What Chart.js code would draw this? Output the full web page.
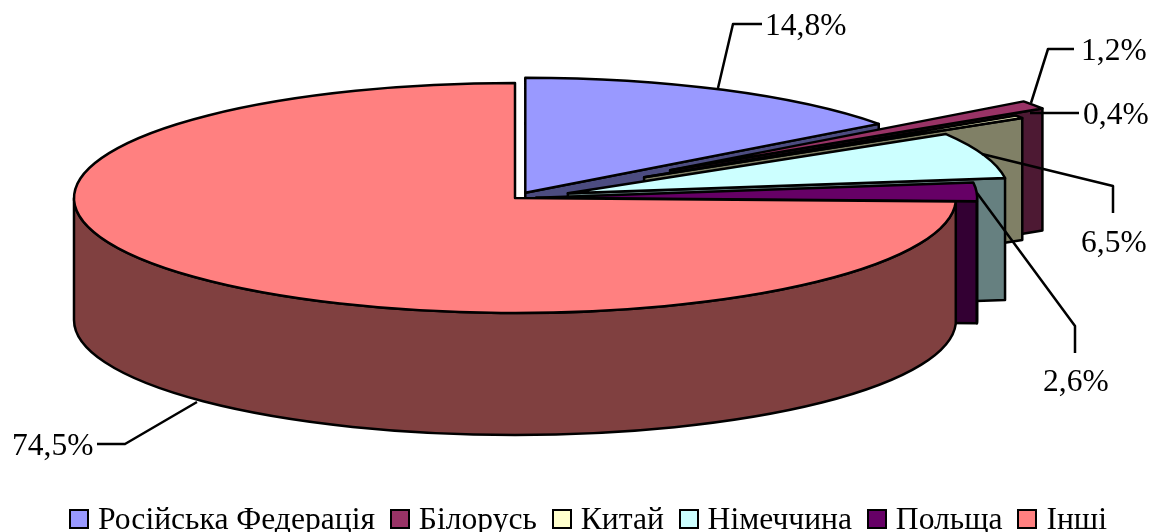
<!DOCTYPE html>
<html lang="uk">
  <head>
    <meta charset="UTF-8" />
    <title>Структура</title>
    <style>
      html, body { margin: 0; padding: 0; background: #fff; }
      #wrap { position: relative; width: 1153px; height: 532px; overflow: hidden; }
      #legend {
        position: absolute; left: 69px; top: 500px; height: 38px;
        display: flex; align-items: center; white-space: nowrap;
        font-family: "Liberation Serif", serif; font-size: 31.6px; color: #000;
      }
      #legend span.box {
        display: inline-block; width: 16px; height: 16px;
        border: 2.5px solid #000; margin-right: 9px;
      }
      #legend span.item { display: inline-flex; align-items: center; margin-right: 14.8px; }
    </style>
  </head>

  <body>
    <div id="wrap">
      <canvas id="pieChart" width="1153" height="532"></canvas>
      <div id="legend"></div>
    </div>

    <script src="https://cdn.jsdelivr.net/npm/chart.js"></script>
    <script>
      const categories = ["Російська Федерація", "Білорусь", "Китай", "Німеччина", "Польща", "Інші"];
      const shares = [14.8, 1.2, 0.4, 6.5, 2.6, 74.5];
      const shareLabels = ["14,8%", "1,2%", "0,4%", "6,5%", "2,6%", "74,5%"];
      const explode = [0.052, 0.427, 0.344, 0.127, 0.048, 0];
      const topColors = ["#9999FF", "#993366", "#FFFFCC", "#CCFFFF", "#660066", "#FF8080"];
      const wallColors = ["#4C4C80", "#4D1933", "#808066", "#668080", "#330033", "#804040"];

      // ellipse of the pie on the page
      const pie = { x: 515, y: 198, rx: 441, ry: 115, depth: 122 };

      // leader line + text position per label
      const leaders = [
        { line: [[718, 88], [733, 24], [762, 24]], text: [765, 27] },
        { line: [[1031, 103], [1048, 49], [1074, 49]], text: [1081, 52] },
        { line: [[1030, 113], [1079, 113]], text: [1083, 116] },
        { line: [[982, 154], [1113, 186], [1113, 213]], text: [1081, 244] },
        { line: [[977, 193], [1075, 326], [1075, 353]], text: [1043, 383] },
        { line: [[197, 402], [125, 444], [97, 444]], text: [12, 447] },
      ];

      function drawSlice(ctx, arc, i) {
        const a0 = arc.startAngle;
        const a1 = arc.endAngle;
        const mid = (a0 + a1) / 2;
        const cx = pie.x + explode[i] * pie.rx * Math.cos(mid);
        const cy = pie.y + explode[i] * pie.ry * Math.sin(mid);
        const d = pie.depth;

        ctx.strokeStyle = "#000";
        ctx.lineWidth = 2.5;
        ctx.lineJoin = "round";
        ctx.fillStyle = wallColors[i];

        // cut face at the end of the slice
        if (a1 < Math.PI / 2) {
          const tx = cx + pie.rx * Math.cos(a1);
          const ty = cy + pie.ry * Math.sin(a1);
          ctx.beginPath();
          ctx.moveTo(cx, cy);
          ctx.lineTo(tx, ty);
          ctx.lineTo(tx, ty + d);
          ctx.lineTo(cx, cy + d);
          ctx.closePath();
          ctx.fill();
          ctx.stroke();
        }

        // outer wall, only the front half of the ellipse
        const s = Math.max(a0, 0);
        const e = Math.min(a1, Math.PI);
        if (e > s) {
          ctx.beginPath();
          ctx.ellipse(cx, cy, pie.rx, pie.ry, 0, s, e);
          ctx.ellipse(cx, cy + d, pie.rx, pie.ry, 0, e, s, true);
          ctx.closePath();
          ctx.fill();
          ctx.stroke();
        }

        // top face comes from the library's arc, squashed to the ellipse
        ctx.save();
        ctx.translate(cx, cy);
        ctx.scale(pie.rx / arc.outerRadius, pie.ry / arc.outerRadius);
        ctx.translate(-arc.x, -arc.y);
        arc.draw(ctx);
        ctx.restore();

        ctx.beginPath();
        ctx.moveTo(cx, cy);
        ctx.ellipse(cx, cy, pie.rx, pie.ry, 0, a0, a1);
        ctx.closePath();
        ctx.stroke();
      }

      const pie3d = {
        id: "pie3d",
        beforeDatasetsDraw(chart) {
          const arcs = chart.getDatasetMeta(0).data;
          arcs.forEach((arc, i) => drawSlice(chart.ctx, arc, i));
          return false; // already drawn
        },
        afterDraw(chart) {
          const ctx = chart.ctx;
          ctx.save();
          ctx.strokeStyle = "#000";
          ctx.lineWidth = 2.5;
          ctx.fillStyle = "#000";
          ctx.font = '31.5px "Liberation Serif", serif';
          ctx.textBaseline = "middle";
          leaders.forEach((l, i) => {
            ctx.beginPath();
            l.line.forEach((p, j) => (j ? ctx.lineTo(p[0], p[1]) : ctx.moveTo(p[0], p[1])));
            ctx.stroke();
            ctx.fillText(shareLabels[i], l.text[0], l.text[1]);
          });
          ctx.restore();
        },
      };

      new Chart(document.getElementById("pieChart"), {
        type: "pie",
        data: {
          labels: categories,
          datasets: [{ data: shares, backgroundColor: topColors, borderWidth: 0 }],
        },
        options: {
          responsive: false,
          animation: false,
          plugins: { legend: { display: false }, tooltip: { enabled: false } },
        },
        plugins: [pie3d],
      });

      const legend = document.getElementById("legend");
      categories.forEach((name, i) => {
        const item = document.createElement("span");
        item.className = "item";
        const box = document.createElement("span");
        box.className = "box";
        box.style.background = topColors[i];
        item.appendChild(box);
        item.appendChild(document.createTextNode(name));
        legend.appendChild(item);
      });
    </script>
  </body>
</html>
